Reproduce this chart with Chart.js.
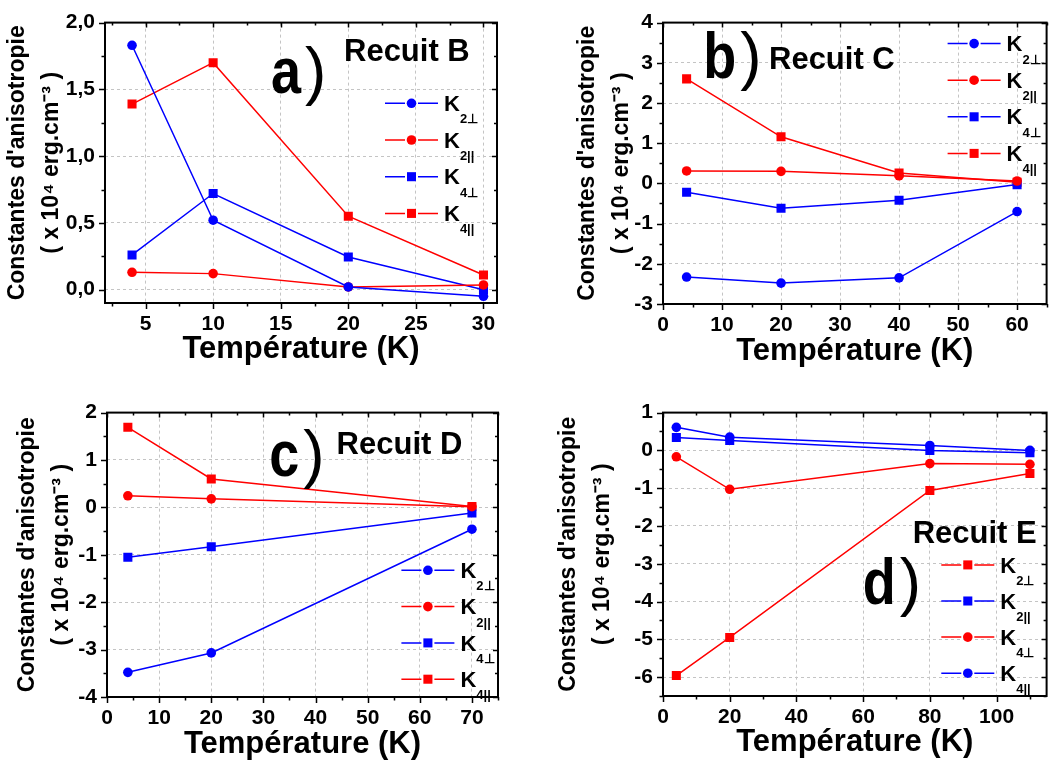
<!DOCTYPE html>
<html>
<head>
<meta charset="utf-8">
<script src="https://cdn.jsdelivr.net/npm/chart.js@4.4.0/dist/chart.umd.min.js"></script>
<style>
  html, body { margin: 0; padding: 0; background: #fff; }
  body { width: 1053px; height: 767px; position: relative; overflow: hidden; }
  canvas { position: absolute; }
</style>
</head>
<body>
<canvas id="chartB" width="520" height="372" style="left:0;top:0"></canvas>
<canvas id="chartC" width="483" height="372" style="left:570px;top:0"></canvas>
<canvas id="chartD" width="510" height="377" style="left:10px;top:390px"></canvas>
<canvas id="chartE" width="502" height="377" style="left:551px;top:390px"></canvas>
<script>
const FONT = "'Liberation Sans', Arial, Helvetica, sans-serif";
Chart.defaults.font.family = FONT;
Chart.defaults.color = '#000';

const BLUE = '#0000ff', RED = '#ff0000';

// a) Recuit B
const tempB = [4, 10, 20, 30];
const k2PerpB = [1.83, 0.52, 0.02, -0.05];
const k2ParB = [0.13, 0.12, 0.02, 0.035];
const k4PerpB = [0.26, 0.72, 0.245, 0.0];
const k4ParB = [1.39, 1.70, 0.55, 0.11];

// b) Recuit C
const tempC = [4, 20, 40, 60];
const k2PerpC = [-2.33, -2.48, -2.35, -0.70];
const k2ParC = [0.31, 0.30, 0.19, 0.06];
const k4PerpC = [-0.22, -0.62, -0.42, -0.03];
const k4ParC = [2.60, 1.16, 0.26, 0.03];

// c) Recuit D
const tempD = [4, 20, 70];
const k2PerpD = [-3.48, -3.07, -0.46];
const k2ParD = [0.245, 0.18, 0.015];
const k4PerpD = [-1.05, -0.83, -0.12];
const k4ParD = [1.69, 0.60, 0.02];

// d) Recuit E
const tempE = [4, 20, 80, 110];
const k2PerpE = [-5.96, -4.95, -1.06, -0.61];
const k2ParE = [0.34, 0.26, 0.0, -0.06];
const k4PerpE = [-0.17, -1.03, -0.35, -0.37];
const k4ParE = [0.61, 0.35, 0.13, 0.0];

const subLabels = ['2⊥', '2||', '4⊥', '4||'];
const xTitle = 'Température (K)';
const yTitle = ["Constantes d'anisotropie", '( x 10⁴ erg.cm⁻³ )'];

function series(i, temps, vals, color, shape) {
    return {
        label: 'K' + subLabels[i],
        sub: subLabels[i],
        data: temps.map((t, j) => ({ x: t, y: vals[j] })),
        borderColor: color,
        backgroundColor: color,
        pointBackgroundColor: color,
        borderWidth: 1.5,
        pointStyle: shape,
        pointRadius: shape === 'rect' ? 6.4 : 4.8,
        pointHoverRadius: shape === 'rect' ? 6.4 : 4.8,
        pointBorderWidth: 0,
        tension: 0
    };
}

// minor ticks half way between the major ones
function minorValues(scale) {
    const step = scale.options.ticks.stepSize;
    const out = [];
    scale.ticks.forEach(t => {
        [t.value - step / 2, t.value + step / 2].forEach(v => {
            if (v >= scale.min - 1e-9 && v <= scale.max + 1e-9 && !out.some(o => Math.abs(o - v) < 1e-6)) out.push(v);
        });
    });
    return out;
}

// box round the plot, ticks out on left/bottom, in on top/right
const framePlugin = {
    id: 'frame',
    beforeDatasetsDraw(chart) {
        const { ctx, chartArea: a, scales: { x, y } } = chart;
        ctx.save();
        ctx.strokeStyle = '#000';
        ctx.lineWidth = 1.5;
        ctx.beginPath();
        const tickX = (v, outL, inL) => {
            const p = Math.round(x.getPixelForValue(v)) + 0.5;
            ctx.moveTo(p, a.bottom); ctx.lineTo(p, a.bottom + outL);
            ctx.moveTo(p, a.top); ctx.lineTo(p, a.top + inL);
        };
        const tickY = (v, outL, inL) => {
            const p = Math.round(y.getPixelForValue(v)) + 0.5;
            ctx.moveTo(a.left, p); ctx.lineTo(a.left - outL, p);
            ctx.moveTo(a.right, p); ctx.lineTo(a.right - inL, p);
        };
        x.ticks.forEach(t => tickX(t.value, 6, 5));
        minorValues(x).forEach(v => tickX(v, 3.5, 3));
        y.ticks.forEach(t => tickY(t.value, 6, 5));
        minorValues(y).forEach(v => tickY(v, 3.5, 3));
        ctx.stroke();
        ctx.lineWidth = 2;
        ctx.strokeRect(a.left, a.top, a.right - a.left, a.bottom - a.top);
        ctx.restore();
    }
};

// legend: line - marker - line, then K with subscript
const legendPlugin = {
    id: 'kLegend',
    afterDatasetsDraw(chart, args, o) {
        const { ctx, chartArea: a } = chart;
        const x0 = a.right + o.dx;
        chart.data.datasets.forEach((ds, i) => {
            const y = a.top + o.dy + i * o.gap;
            ctx.save();
            ctx.strokeStyle = ds.borderColor;
            ctx.lineWidth = 1.5;
            ctx.beginPath();
            ctx.moveTo(x0, y); ctx.lineTo(x0 + 20, y);
            ctx.moveTo(x0 + 33, y); ctx.lineTo(x0 + 53, y);
            ctx.stroke();
            ctx.fillStyle = ds.borderColor;
            Chart.helpers.drawPoint(ctx, { pointStyle: ds.pointStyle, radius: ds.pointRadius, borderWidth: 0, rotation: 0 }, x0 + 26.5, y);
            ctx.fillStyle = '#000';
            ctx.textAlign = 'left';
            ctx.textBaseline = 'alphabetic';
            ctx.font = 'bold 22px ' + FONT;
            ctx.fillText('K', x0 + 59, y + 7.6);
            const kw = ctx.measureText('K').width;
            ctx.font = 'bold 13px ' + FONT;
            ctx.fillText(ds.sub, x0 + 59 + kw, y + 20);
            ctx.restore();
        });
    }
};

// panel letter "a)" and "Recuit X"
const panelTextPlugin = {
    id: 'panelText',
    afterDraw(chart, args, o) {
        const { ctx, chartArea: a } = chart;
        const lx = a.left + o.letterX, ly = a.top + o.letterY;
        ctx.save();
        ctx.fillStyle = '#000';
        ctx.textAlign = 'left';
        ctx.textBaseline = 'alphabetic';
        ctx.save();
        ctx.translate(lx, ly);
        ctx.scale(1, 1.2);
        ctx.font = 'bold 54px ' + FONT;
        ctx.fillText(o.letter, 0, 0);
        const w = ctx.measureText(o.letter).width;
        ctx.restore();
        ctx.font = '64px ' + FONT;
        ctx.fillText(')', lx + w + 4, ly);
        ctx.font = 'bold 31px ' + FONT;
        ctx.fillText(o.title, a.left + o.titleX, a.top + o.titleY);
        ctx.restore();
    }
};

function makeChart(id, p) {
    const canvas = document.getElementById(id);
    const W = canvas.width, H = canvas.height;
    const gridOpts = { color: '#c4c4c4', lineWidth: 1, drawTicks: false };
    const borderOpts = { display: false, dash: [3, 3] };
    return new Chart(canvas, {
        type: 'line',
        data: { datasets: p.datasets },
        options: {
            responsive: false,
            animation: false,
            events: [],
            layout: { padding: { left: 0, top: p.area.top, right: W - p.area.right, bottom: 0 } },
            plugins: {
                legend: { display: false },
                tooltip: { enabled: false },
                kLegend: p.legend,
                panelText: p.label
            },
            scales: {
                x: {
                    type: 'linear',
                    min: p.x.min, max: p.x.max,
                    afterFit: s => { s.height = H - p.area.bottom; },
                    ticks: {
                        stepSize: p.x.step, includeBounds: false, autoSkip: false, maxRotation: 0,
                        padding: 9, font: { size: 21, weight: 'bold' }, color: '#000'
                    },
                    grid: gridOpts,
                    border: borderOpts,
                    title: {
                        display: true, text: xTitle, color: '#000',
                        font: { size: 31, weight: 'bold' },
                        padding: { top: 0, bottom: p.xTitlePad }
                    }
                },
                y: {
                    type: 'linear',
                    min: p.y.min, max: p.y.max,
                    afterFit: s => { s.width = p.area.left; },
                    ticks: {
                        stepSize: p.y.step, includeBounds: false, autoSkip: false,
                        padding: 10, font: { size: 21, weight: 'bold' }, color: '#000',
                        callback: p.y.fmt
                    },
                    grid: gridOpts,
                    border: borderOpts,
                    title: {
                        display: true, text: yTitle, color: '#000',
                        font: { size: 23, weight: 'bold', lineHeight: 1.5 },
                        padding: { top: 0, bottom: 0 }
                    }
                }
            }
        },
        plugins: [framePlugin, legendPlugin, panelTextPlugin]
    });
}

const commaFmt = v => v.toFixed(1).replace('.', ',');
const intFmt = v => String(Math.round(v));

makeChart('chartB', {
    area: { left: 105, top: 15, right: 497, bottom: 303 },
    x: { min: 2, max: 31, step: 5 },
    y: { min: -0.1, max: 2.0, step: 0.5, fmt: commaFmt },
    xTitlePad: 4,
    legend: { dx: -112, dy: 80.7, gap: 36.7 },
    label: { letter: 'a', letterX: 166, letterY: 70, title: 'Recuit B', titleX: 239, titleY: 38.3 },
    datasets: [
        series(0, tempB, k2PerpB, BLUE, 'circle'),
        series(1, tempB, k2ParB, RED, 'circle'),
        series(2, tempB, k4PerpB, BLUE, 'rect'),
        series(3, tempB, k4ParB, RED, 'rect')
    ]
});

makeChart('chartC', {
    area: { left: 93, top: 15, right: 482, bottom: 304 },
    x: { min: 0, max: 65, step: 10 },
    y: { min: -3, max: 4, step: 1, fmt: intFmt },
    xTitlePad: 2.4,
    legend: { dx: -99, dy: 21, gap: 36.6 },
    label: { letter: 'b', letterX: 40.3, letterY: 55, title: 'Recuit C', titleX: 106, titleY: 46.7 },
    datasets: [
        series(0, tempC, k2PerpC, BLUE, 'circle'),
        series(1, tempC, k2ParC, RED, 'circle'),
        series(2, tempC, k4PerpC, BLUE, 'rect'),
        series(3, tempC, k4ParC, RED, 'rect')
    ]
});

makeChart('chartD', {
    area: { left: 97, top: 18, right: 488, bottom: 307 },
    x: { min: 0, max: 75, step: 10 },
    y: { min: -4, max: 2, step: 1, fmt: intFmt },
    xTitlePad: 4.4,
    legend: { dx: -96.6, dy: 157.7, gap: 36.3 },
    label: { letter: 'c', letterX: 162.3, letterY: 63.4, title: 'Recuit D', titleX: 229.6, titleY: 41.7 },
    datasets: [
        series(0, tempD, k2PerpD, BLUE, 'circle'),
        series(1, tempD, k2ParD, RED, 'circle'),
        series(2, tempD, k4PerpD, BLUE, 'rect'),
        series(3, tempD, k4ParD, RED, 'rect')
    ]
});

makeChart('chartE', {
    area: { left: 112, top: 17, right: 501, bottom: 306 },
    x: { min: 0, max: 115, step: 20 },
    y: { min: -6.5, max: 1, step: 1, fmt: intFmt },
    xTitlePad: 6,
    legend: { dx: -105.3, dy: 152.3, gap: 36.1 },
    label: { letter: 'd', letterX: 199.7, letterY: 191.6, title: 'Recuit E', titleX: 249.7, titleY: 130 },
    datasets: [
        series(0, tempE, k2PerpE, RED, 'rect'),
        series(1, tempE, k2ParE, BLUE, 'rect'),
        series(2, tempE, k4PerpE, RED, 'circle'),
        series(3, tempE, k4ParE, BLUE, 'circle')
    ]
});
</script>
</body>
</html>
